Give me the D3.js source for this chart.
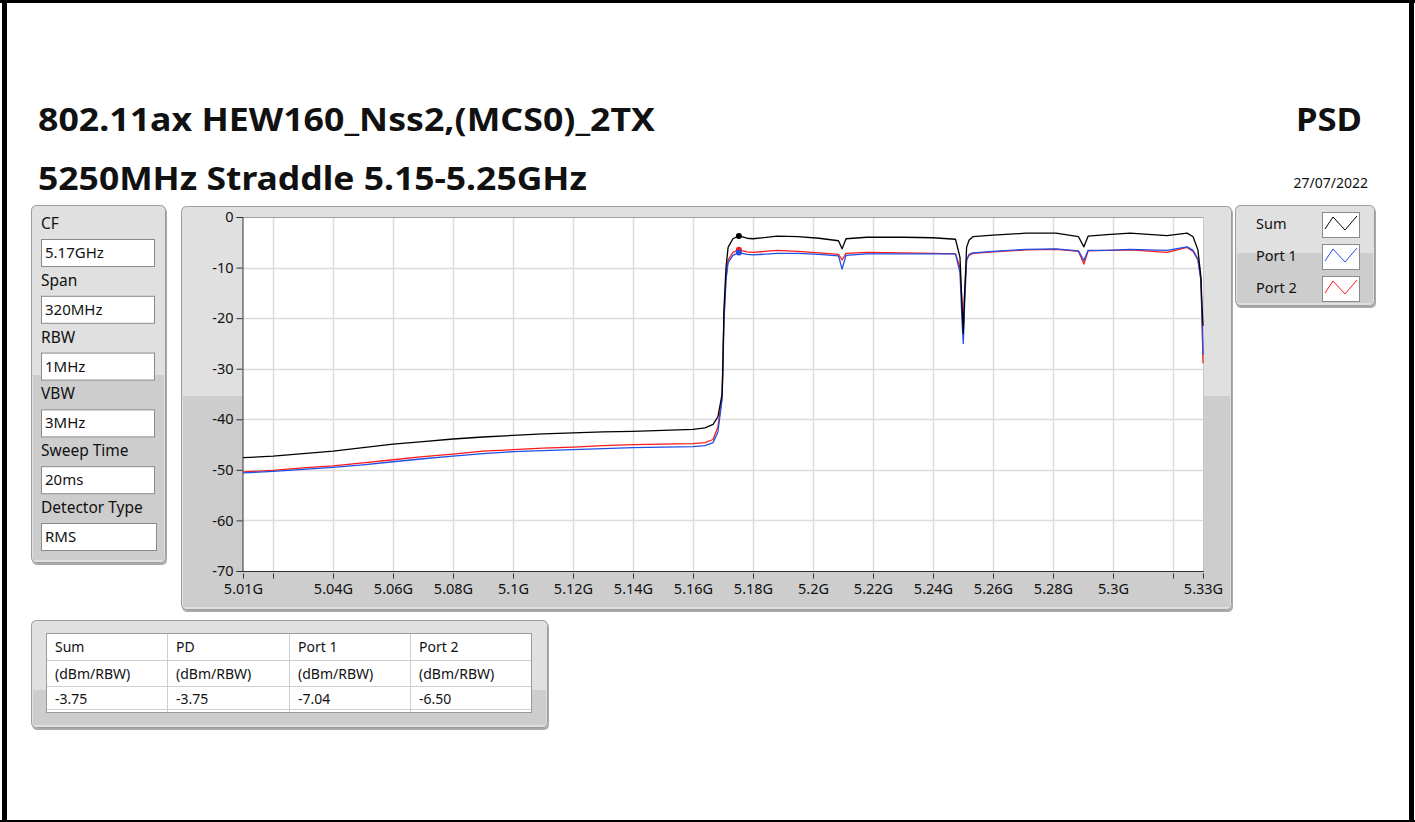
<!DOCTYPE html>
<html><head><meta charset="utf-8">
<script src="https://cdn.jsdelivr.net/npm/d3@7"></script>
<style>
body{margin:0;background:#fff;}
svg{display:block;}
text{font-family:"Noto Sans","Open Sans",sans-serif;fill:#111;}
</style>
</head><body>
<svg id="c" width="1415" height="822"></svg>
<script>
// ---------- data ----------
const freqGHz = [
5.010,5.020,5.030,5.040,5.050,5.060,5.070,5.080,5.090,5.100,
5.110,5.120,5.130,5.140,5.150,5.160,5.164,5.1667,5.1683,5.1697,
5.1700,5.1703,5.1710,5.1717,5.1733,5.1753,5.1780,5.1800,5.1880,5.1950,
5.2020,5.2085,5.2097,5.2110,5.2180,5.2300,5.2400,5.2475,5.2490,5.2497,
5.2501,5.2505,5.2512,5.2520,5.2533,5.2600,5.2710,5.2810,5.2885,5.2903,
5.2917,5.2980,5.3057,5.3180,5.3247,5.3267,5.3283,5.3293,5.3297,5.3300];
const sumDbm = [
-47.6,-47.3,-46.8,-46.3,-45.6,-44.9,-44.4,-43.9,-43.5,-43.2,
-42.9,-42.7,-42.5,-42.4,-42.2,-42.0,-41.7,-41.0,-39.5,-35.0,
-28.0,-18.5,-10.0,-6.0,-4.3,-3.75,-4.2,-4.3,-3.8,-3.9,
-4.2,-4.7,-6.3,-4.3,-4.0,-4.0,-4.1,-4.4,-8.0,-18.0,
-23.0,-16.0,-6.0,-4.6,-3.9,-3.6,-3.2,-3.2,-3.9,-5.9,
-3.8,-3.5,-3.2,-3.7,-3.2,-3.9,-6.5,-11.8,-18.0,-21.5];
const port1Dbm = [
-50.6,-50.3,-49.9,-49.5,-49.0,-48.4,-47.8,-47.3,-46.8,-46.4,
-46.2,-46.0,-45.8,-45.6,-45.5,-45.4,-45.2,-44.6,-42.5,-36.0,
-29.0,-21.0,-12.5,-9.0,-7.6,-7.04,-7.4,-7.5,-7.2,-7.2,
-7.4,-7.7,-10.3,-7.6,-7.3,-7.3,-7.3,-7.3,-11.0,-21.0,
-25.0,-18.0,-8.5,-7.4,-7.1,-6.8,-6.4,-6.3,-6.7,-8.6,
-6.6,-6.6,-6.4,-6.6,-5.9,-6.6,-8.3,-12.5,-20.0,-27.3];
const port2Dbm = [
-50.4,-50.1,-49.6,-49.2,-48.6,-48.0,-47.4,-46.9,-46.3,-46.0,
-45.7,-45.5,-45.2,-45.0,-44.9,-44.8,-44.6,-44.0,-41.5,-35.5,
-28.5,-20.0,-12.0,-8.5,-7.0,-6.50,-6.9,-7.0,-6.6,-6.8,
-7.1,-7.4,-8.5,-7.2,-7.0,-7.1,-7.2,-7.3,-10.0,-17.0,
-21.5,-15.0,-8.5,-7.6,-7.2,-6.9,-6.5,-6.4,-6.8,-9.3,
-6.7,-6.6,-6.5,-7.0,-6.0,-6.8,-8.5,-12.4,-21.0,-28.9];
const seriesNames = ["Sum","Port 1","Port 2"];
const seriesColors = ["#000000","#1f4fe6","#ff1a1a"];
const markerFreq = 5.1753;
const markerValues = [-3.75,-7.04,-6.50];
const xTickValues = [5.01,5.02,5.04,5.06,5.08,5.10,5.12,5.14,5.16,5.18,5.20,5.22,5.24,5.26,5.28,5.30,5.32,5.33];
const xTickLabels = ["5.01G","","5.04G","5.06G","5.08G","5.1G","5.12G","5.14G","5.16G","5.18G","5.2G","5.22G","5.24G","5.26G","5.28G","5.3G","","5.33G"];
const yTickValues = [0,-10,-20,-30,-40,-50,-60,-70];
const yTickLabels = ["0","-10","-20","-30","-40","-50","-60","-70"];
const settingLabels = ["CF","Span","RBW","VBW","Sweep Time","Detector Type"];
const settingValues = ["5.17GHz","320MHz","1MHz","3MHz","20ms","RMS"];
const tableHeaders = ["Sum","PD","Port 1","Port 2"];
const tableUnits = ["(dBm/RBW)","(dBm/RBW)","(dBm/RBW)","(dBm/RBW)"];
const tableValues = ["-3.75","-3.75","-7.04","-6.50"];
const titleLines = ["802.11ax HEW160_Nss2,(MCS0)_2TX","5250MHz Straddle 5.15-5.25GHz"];

// ---------- drawing ----------
const svg = d3.select("#c");
svg.append("rect").attr("x",0).attr("y",0).attr("width",1415).attr("height",822).attr("fill","#fff");

function panel(x,y,w,h,split){
  const g = svg.append("g");
  g.append("rect").attr("x",x+1).attr("y",y+2).attr("width",w).attr("height",h).attr("rx",5).attr("fill","#a9a9a9");
  g.append("rect").attr("x",x).attr("y",y).attr("width",w).attr("height",h).attr("rx",5).attr("fill","#e0e0e0");
  g.append("rect").attr("x",x+2).attr("y",split).attr("width",w-4).attr("height",y+h-split-3).attr("fill","#cdcdcd");
  g.append("rect").attr("x",x+0.5).attr("y",y+0.5).attr("width",w-1).attr("height",h-1).attr("rx",5)
    .attr("fill","none").attr("stroke","#9c9c9c");
  return g;
}

// titles
svg.append("text").attr("x",38).attr("y",131).attr("font-size",33).attr("font-weight","bold")
  .attr("textLength",617).attr("lengthAdjust","spacingAndGlyphs").text(titleLines[0]);
svg.append("text").attr("x",38).attr("y",190).attr("font-size",33).attr("font-weight","bold")
  .attr("textLength",549).attr("lengthAdjust","spacingAndGlyphs").text(titleLines[1]);
svg.append("text").attr("x",1296).attr("y",131).attr("font-size",33).attr("font-weight","bold")
  .attr("textLength",66).attr("lengthAdjust","spacingAndGlyphs").text("PSD");
svg.append("text").attr("x",1368).attr("y",188).attr("font-size",14)
  .attr("text-anchor","end").text("27/07/2022");

// left settings panel
const lp = panel(31,205,135,358,375);
settingLabels.forEach((lab,i)=>{
  const top = 239 + i*56.8;
  lp.append("text").attr("x",41).attr("y",top-10).attr("font-size",15.5).text(lab);
  lp.append("rect").attr("x",41.5).attr("y",top+0.5).attr("width",i===5?115:113).attr("height",27)
    .attr("fill","#fff").attr("stroke","#8a8a8a");
  lp.append("text").attr("x",45).attr("y",top+19).attr("font-size",15).text(settingValues[i]);
});

// graph panel
const gp = panel(181,206,1051,404,396);
const plot = {l:243,t:217,r:1204,b:571};
const x = d3.scaleLinear().domain([5.01,5.33]).range([243,1203]);
const y = d3.scaleLinear().domain([-70,0]).range([571,217]);
gp.append("rect").attr("x",plot.l).attr("y",plot.t).attr("width",plot.r-plot.l).attr("height",plot.b-plot.t)
  .attr("fill","#fff");
// grid
const grid = gp.append("g");
xTickValues.filter(v=>v>5.011 && v<5.329).forEach(v=>{
  grid.append("line").attr("x1",Math.round(x(v))+0.5).attr("x2",Math.round(x(v))+0.5)
    .attr("y1",plot.t).attr("y2",plot.b).attr("stroke","#dcdcdc").attr("stroke-width",1.5);
});
yTickValues.filter(v=>v<0 && v>-70).forEach(v=>{
  grid.append("line").attr("x1",plot.l).attr("x2",plot.r).attr("y1",Math.round(y(v))+0.5).attr("y2",Math.round(y(v))+0.5)
    .attr("stroke","#dcdcdc").attr("stroke-width",1.5);
});
// frame of plot
gp.append("line").attr("x1",plot.l).attr("x2",plot.r).attr("y1",plot.t+0.5).attr("y2",plot.t+0.5).attr("stroke","#a0a0a0");
gp.append("line").attr("x1",plot.r-0.5).attr("x2",plot.r-0.5).attr("y1",plot.t).attr("y2",plot.b).attr("stroke","#c8c8c8");

// axes
const yAxis = d3.axisLeft(y).tickValues(yTickValues).tickFormat((d,i)=>yTickLabels[i]).tickSize(6).tickPadding(3);
const ya = gp.append("g").attr("transform",`translate(${plot.l-0.5},0)`).call(yAxis);
ya.select(".domain").attr("stroke","#333");
ya.selectAll(".tick line").attr("stroke","#333");
ya.selectAll("text").attr("font-size",14.5).attr("font-family","Noto Sans").attr("fill","#111");

const xAxis = d3.axisBottom(x).tickValues(xTickValues).tickFormat((d,i)=>xTickLabels[i]).tickSize(7).tickPadding(5).tickSizeOuter(0);
const xa = gp.append("g").attr("transform",`translate(0,${plot.b+0.5})`).call(xAxis);
xa.select(".domain").attr("stroke","#333").attr("d",`M${plot.l},0H${plot.r}`);
xa.selectAll(".tick line").attr("stroke","#333").attr("y1",2);
xa.selectAll("text").attr("font-size",14.5).attr("font-family","Noto Sans").attr("fill","#111");

// traces
const seriesData = [sumDbm, port1Dbm, port2Dbm];
const line = d3.line().x(d=>x(d[0])).y(d=>y(d[1]));
const drawOrder = [2,1,0];
const traces = gp.append("g");
drawOrder.forEach(si=>{
  const pts = freqGHz.map((f,i)=>[f, seriesData[si][i]]);
  traces.append("path").attr("d",line(pts)).attr("fill","none")
    .attr("stroke",seriesColors[si]).attr("stroke-width",1.3).attr("stroke-linejoin","round");
});
drawOrder.forEach(si=>{
  traces.append("circle").attr("cx",x(markerFreq)).attr("cy",y(markerValues[si])).attr("r",3)
    .attr("fill",seriesColors[si]);
});

// legend panel
const lg = panel(1235,205,140,101,253);
seriesNames.forEach((n,i)=>{
  const cy = 224 + i*32;
  lg.append("text").attr("x",1256).attr("y",cy+5).attr("font-size",14.5).text(n);
  lg.append("rect").attr("x",1322.5).attr("y",cy-11.5).attr("width",37).attr("height",25)
    .attr("fill","#fff").attr("stroke","#8a8a8a");
  const zz = [[1325,cy+5],[1333,cy-7],[1345,cy+6],[1357,cy-8]];
  lg.append("path").attr("d",d3.line()(zz)).attr("fill","none").attr("stroke",seriesColors[i]).attr("stroke-width",1);
});

// table panel
const tp = panel(31,620,517,108,690);
const colX = [46,167,289,410,532];
const rowY = [633,660,686,712];
tp.append("rect").attr("x",46.5).attr("y",633.5).attr("width",485).attr("height",79).attr("fill","#fff").attr("stroke","#9a9a9a");
rowY.slice(1,3).forEach(r=>tp.append("line").attr("x1",47).attr("x2",531).attr("y1",r+0.5).attr("y2",r+0.5).attr("stroke","#cfcfcf"));
tp.append("line").attr("x1",47).attr("x2",531).attr("y1",709.5).attr("y2",709.5).attr("stroke","#cfcfcf");
colX.slice(1,4).forEach(c=>tp.append("line").attr("x1",c+0.5).attr("x2",c+0.5).attr("y1",634).attr("y2",712).attr("stroke","#cfcfcf"));
[tableHeaders,tableUnits,tableValues].forEach((row,ri)=>{
  row.forEach((t,ci)=>{
    tp.append("text").attr("x",colX[ci]+9).attr("y",[652,679,704][ri]).attr("font-size",14).text(t);
  });
});

// outer frame
svg.append("rect").attr("x",0).attr("y",0).attr("width",1415).attr("height",3).attr("fill","#000");
svg.append("rect").attr("x",2).attr("y",0).attr("width",5).attr("height",822).attr("fill","#000");
svg.append("rect").attr("x",1409).attr("y",0).attr("width",5).attr("height",822).attr("fill","#000");
svg.append("rect").attr("x",0).attr("y",820).attr("width",1415).attr("height",2).attr("fill","#000");
</script>
</body></html>
